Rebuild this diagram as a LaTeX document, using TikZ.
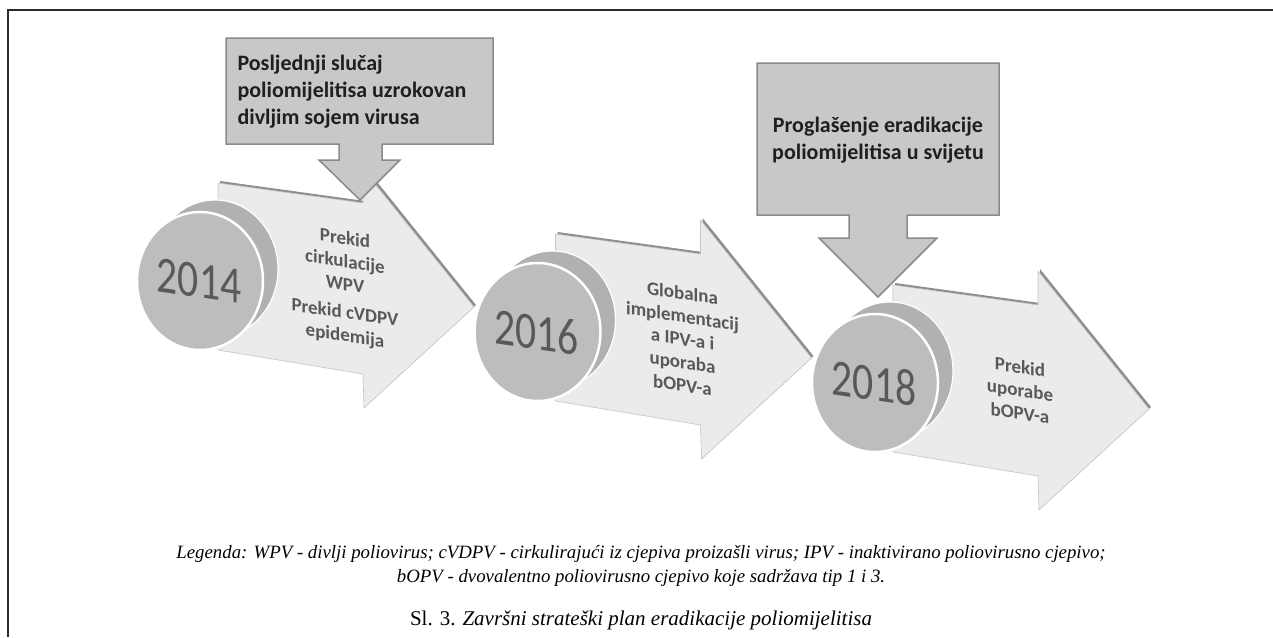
\documentclass[tikz,border=0pt]{standalone}
\usepackage{fontspec}
\setmainfont{Liberation Serif}
\newfontfamily\calibri{Carlito}
\definecolor{arrowfill}{HTML}{EBEBEB}
\definecolor{arrowline}{HTML}{C4C4C4}
\definecolor{arrowedge}{HTML}{8E8E8E}
\definecolor{discfront}{HTML}{BDBDBD}
\definecolor{discback}{HTML}{B1B1B1}
\definecolor{boxfill}{HTML}{C8C8C8}
\definecolor{boxline}{HTML}{8A8A8A}
\definecolor{textgray}{HTML}{595959}
\definecolor{framegray}{HTML}{2B2B2B}

\begin{document}
\begin{tikzpicture}[
        x=1pt, y=-1pt,
        stepedge/.style={fill=arrowedge, draw=none},
        stepshape/.style={fill=arrowfill, draw=arrowline, line width=0.6pt, line join=round},
        backdisc/.style={fill=discback, draw=white, line width=1.2pt},
        frontdisc/.style={fill=discfront, draw=white, line width=2.5pt},
        callout/.style={fill=boxfill, draw=boxline, line width=1.5pt, line join=miter},
        yeartext/.style={font=\calibri\fontsize{52}{52}\selectfont, text=textgray, xscale=0.8, yslant=-0.12},
        steptext/.style={font=\calibri\bfseries\fontsize{19}{23}\selectfont, text=textgray, yslant=-0.15, align=center},
        boxtext/.style={font=\calibri\bfseries\fontsize{22}{27}\selectfont, text=black!88},
        legendtext/.style={font=\itshape\fontsize{18.8}{22}\selectfont, anchor=base}]
        \useasboundingbox (0,0) rectangle (1273,637);
        % Frame
        \draw[framegray, line width=2.5pt] (8,637) -- (8,10) -- (1273,10);
        % Steps
        \foreach \i/\yr/\txt in {0/2014/{Prekid\\cirkulacije\\WPV\\[5pt]Prekid cVDPV\\epidemija},
                                 1/2016/{Globalna\\implementacij\\a IPV-a i\\uporaba\\bOPV-a},
                                 2/2018/{Prekid\\uporabe\\bOPV-a}} {
          \begin{scope}[shift={(\i*337.5,\i*51)}]
            \fill[stepedge, shift={(2,-2)}] (218,183) -- (363,203) -- (363,169) -- (474,307)
                             -- (364,408) -- (363,374) -- (218,350) -- cycle;
            \draw[stepshape] (218,183) -- (363,203) -- (363,169) -- (474,307)
                             -- (364,408) -- (363,374) -- (218,350) -- cycle;
            \draw[backdisc] (215,269) ellipse [x radius=63, y radius=69];
            \draw[frontdisc] (200,281) ellipse [x radius=63, y radius=69];
            \node[yeartext] (year\i) at (199,281) {\yr};
            \node[steptext] (step\i) at (345,288) {\txt};
          \end{scope}
        }
        % Callouts
        \draw[callout] (226,38) -- (493,38) -- (493,144) -- (382,144) -- (382,160) -- (400,160)
                       -- (360,200) -- (319,160) -- (339,160) -- (339,144) -- (226,144) -- cycle;
        \draw[callout] (757,63) -- (999,63) -- (999,215) -- (907,215) -- (907,238) -- (937,238)
                       -- (878,297) -- (819,238) -- (849,238) -- (849,215) -- (757,215) -- cycle;
        \node[boxtext, align=left, anchor=west] (lastcase) at (234,92)
             {Posljednji slučaj\\poliomijelitisa uzrokovan\\divljim sojem virusa};
        \node[boxtext, align=center] (declared) at (878,140)
             {Proglašenje eradikacije\\poliomijelitisa u svijetu};
        % Legend
        \node[legendtext] (legend1) at (641,558)
             {Legenda: WPV - divlji poliovirus; cVDPV - cirkulirajući iz cjepiva proizašli virus; IPV - inaktivirano poliovirusno cjepivo;};
        \node[legendtext] (legend2) at (641,582)
             {bOPV - dvovalentno poliovirusno cjepivo koje sadržava tip 1 i 3.};
        \node[font=\fontsize{21}{24}\selectfont, anchor=base] (caption) at (641,625)
             {Sl. 3. \textit{Završni strateški plan eradikacije poliomijelitisa}};
      \end{tikzpicture}
\end{document}
